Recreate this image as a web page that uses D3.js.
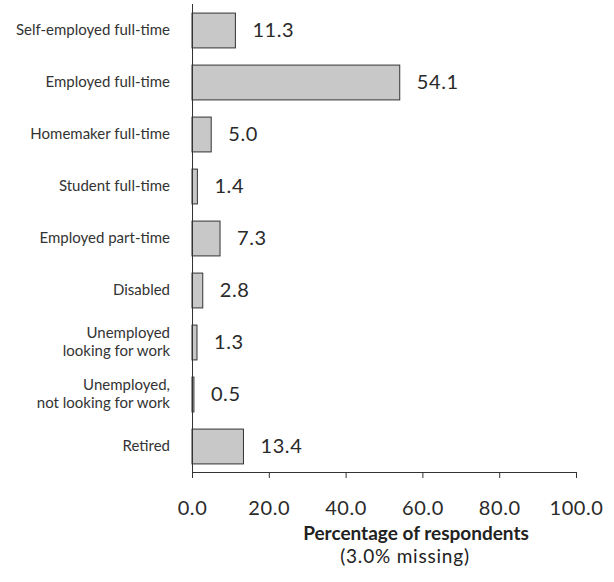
<!DOCTYPE html>
<html>
<head>
<meta charset="utf-8">
<script src="https://cdn.jsdelivr.net/npm/d3@7"></script>
<style>
  body { margin: 0; background: #fff; }
  text { font-family: Lato, "Open Sans", sans-serif; }
</style>
</head>
<body>
<div id="chart"></div>
<script>
var categories = [
  ["Self-employed full-time"],
  ["Employed full-time"],
  ["Homemaker full-time"],
  ["Student full-time"],
  ["Employed part-time"],
  ["Disabled"],
  ["Unemployed", "looking for work"],
  ["Unemployed,", "not looking for work"],
  ["Retired"]
];
var values = [11.3, 54.1, 5.0, 1.4, 7.3, 2.8, 1.3, 0.5, 13.4];
var xTicks = [0, 20, 40, 60, 80, 100];

var width = 614, height = 582;
var svg = d3.select("#chart").append("svg")
    .attr("width", width)
    .attr("height", height);

var x = d3.scaleLinear().domain([0, 100]).range([192, 576]);
var y = d3.scaleBand()
    .domain(d3.range(values.length))
    .range([4, 472])
    .paddingInner(0.33)
    .paddingOuter(0.165);

// bars
svg.append("g").selectAll("rect")
    .data(values)
    .enter()
    .append("rect")
    .attr("x", x(0))
    .attr("y", function(d, i) { return y(i) + 0.5; })
    .attr("width", function(d) { return x(d) - x(0); })
    .attr("height", y.bandwidth())
    .attr("fill", "#c8c8c8")
    .attr("stroke", "#333")
    .attr("stroke-width", 1);

// value labels
svg.append("g").selectAll("text")
    .data(values)
    .enter()
    .append("text")
    .attr("x", function(d) { return x(d) + 17; })
    .attr("y", function(d, i) { return y(i) + y.bandwidth() / 2; })
    .attr("dy", "0.36em")
    .attr("font-size", 20)
    .attr("letter-spacing", 0.6)
    .attr("fill", "#2a2a2a")
    .text(function(d) { return d.toFixed(1); });

// category labels
var cat = svg.append("g").selectAll("text")
    .data(categories)
    .enter()
    .append("text")
    .attr("text-anchor", "end")
    .attr("font-size", 15)
    .attr("fill", "#333")
    .attr("y", function(d, i) { return y(i) + y.bandwidth() / 2; });
cat.selectAll("tspan")
    .data(function(d) { return d.map(function(s, j) { return {s: s, j: j, n: d.length}; }); })
    .enter()
    .append("tspan")
    .attr("x", 170)
    .attr("dy", function(t) {
        if (t.j == 0) return (0.35 - (t.n - 1) * 0.6) + "em";
        return "1.2em";
    })
    .text(function(t) { return t.s; });

// vertical axis line
svg.append("line")
    .attr("x1", x(0) + 0.5).attr("x2", x(0) + 0.5)
    .attr("y1", 4).attr("y2", 472)
    .attr("stroke", "#333");

// x axis
var xAxis = d3.axisBottom(x)
    .tickValues(xTicks)
    .tickSizeOuter(0)
    .tickSize(6)
    .tickFormat(d3.format(".1f"));

var gx = svg.append("g")
    .attr("transform", "translate(0,472)")
    .call(xAxis);
gx.select(".domain").attr("stroke", "#333");
gx.selectAll(".tick line").attr("stroke", "#333");
gx.selectAll(".tick text")
    .attr("font-family", "Lato, sans-serif")
    .attr("font-size", 20)
    .attr("letter-spacing", 0.6)
    .attr("fill", "#2a2a2a")
    .attr("y", 29);

svg.append("text")
    .attr("x", 416)
    .attr("y", 540)
    .attr("text-anchor", "middle")
    .attr("font-size", 19)
    .attr("font-weight", "bold")
    .attr("fill", "#222")
    .text("Percentage of respondents");

svg.append("text")
    .attr("x", 405)
    .attr("y", 563)
    .attr("text-anchor", "middle")
    .attr("font-size", 19)
    .attr("letter-spacing", 0.8)
    .attr("fill", "#222")
    .text("(3.0% missing)");
</script>
</body>
</html>
